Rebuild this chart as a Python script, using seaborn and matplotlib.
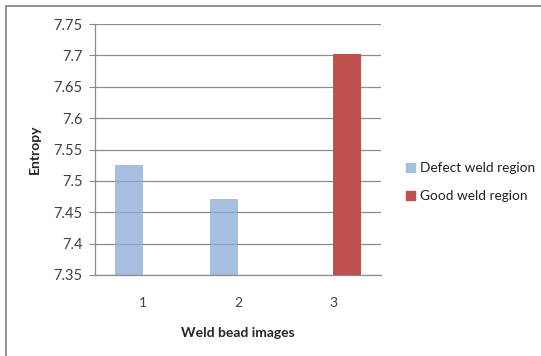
import pandas as pd
import matplotlib
matplotlib.use("Agg")
import matplotlib.pyplot as plt
from matplotlib.lines import Line2D
import matplotlib.patches as mpatches
import seaborn as sns

images = ['1', '2', '3']
regions = ['Defect weld region', 'Defect weld region', 'Good weld region']
entropy = [7.525, 7.471, 7.702]
yticks = [7.35, 7.4, 7.45, 7.5, 7.55, 7.6, 7.65, 7.7, 7.75]
ytick_labels = ['7.35', '7.4', '7.45', '7.5', '7.55', '7.6', '7.65', '7.7', '7.75']

warna = {'Defect weld region': '#8AAAD3', 'Good weld region': '#C0504D'}

df = pd.DataFrame({'image': images, 'region': regions, 'entropy': entropy})

sns.set_style('white')
plt.rcParams['font.family'] = ['Lato', 'DejaVu Sans']

fig = plt.figure(figsize=(5.41, 3.56), dpi=100)
ax = fig.add_axes([95 / 541, 1 - 275 / 356, (381 - 95) / 541, (275 - 24) / 356])

sns.barplot(data=df, x='image', y='entropy', hue='region', order=images,
            hue_order=['Defect weld region', 'Good weld region'],
            palette=warna, width=0.59, dodge=True, ax=ax, legend=False,
            saturation=1, linewidth=0)
for p in ax.containers[0]:
    p.set_alpha(0.75)

ax.set_ylim(7.35, 7.75)
ax.set_xlim(-0.5, 2.5)
ax.set_yticks(yticks)
ax.set_yticklabels(ytick_labels)
ax.yaxis.grid(True, color='#8c8c8c', linewidth=0.9)
ax.set_axisbelow(True)

for s in ['top', 'right']:
    ax.spines[s].set_visible(False)
for s in ['left', 'bottom']:
    ax.spines[s].set_color('#8c8c8c')
    ax.spines[s].set_linewidth(0.9)

ax.tick_params(axis='y', length=4, color='#8c8c8c', labelsize=10.5,
               labelcolor='#404040', pad=5, left=True)
ax.tick_params(axis='x', length=0, labelsize=10, labelcolor='#404040', pad=16)

ax.set_xlabel('Weld bead images', fontsize=10, fontweight='bold', labelpad=13)
ax.set_ylabel('Entropy', fontsize=10, fontweight='bold', labelpad=9)

patches = [mpatches.Patch(color='#A7C0DE', label='Defect weld region'),
           mpatches.Patch(color=warna['Good weld region'], label='Good weld region')]
fig.legend(handles=patches, loc='center left', bbox_to_anchor=(394 / 541, 1 - 182 / 356),
           frameon=False, fontsize=9.8, handlelength=0.65, handleheight=0.65,
           handletextpad=0.35, labelspacing=1.15, labelcolor='#202020')

# bingkai luar gaya Excel (hanya atas dan kiri yang terlihat)
fig.add_artist(Line2D([6 / 541, 1], [1 - 6 / 356, 1 - 6 / 356], transform=fig.transFigure,
                      color='#7f7f7f', linewidth=1.2))
fig.add_artist(Line2D([6 / 541, 6 / 541], [0, 1 - 6 / 356], transform=fig.transFigure,
                      color='#7f7f7f', linewidth=1.2))

fig.savefig('out.png', dpi=100, facecolor='white')
